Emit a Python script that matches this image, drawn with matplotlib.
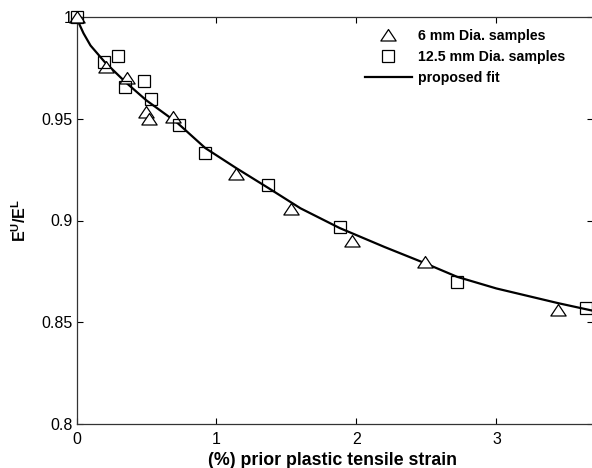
import matplotlib
matplotlib.use("Agg")
import matplotlib.pyplot as plt
from matplotlib.path import Path

plt.rcParams['font.family'] = ['Liberation Sans', 'DejaVu Sans']
plt.rcParams['mathtext.fontset'] = 'custom'
plt.rcParams['mathtext.rm'] = 'Liberation Sans:bold'
plt.rcParams['mathtext.bf'] = 'Liberation Sans:bold'

# 6 mm samples (triangles)
tri_x = [0.0, 0.21, 0.36, 0.50, 0.52, 0.69, 1.14, 1.53, 1.97, 2.49, 3.44]
tri_y = [1.0, 0.9755, 0.970, 0.9535, 0.950, 0.951, 0.9228, 0.9055, 0.890, 0.8797, 0.856]

# 12.5 mm samples (squares)
sq_x = [0.0, 0.195, 0.30, 0.35, 0.48, 0.53, 0.73, 0.92, 1.37, 1.88, 2.72, 3.64, 3.73]
sq_y = [1.0, 0.978, 0.981, 0.9654, 0.9687, 0.9597, 0.947, 0.933, 0.9174, 0.8969, 0.870, 0.8568, 0.8525]

# proposed fit
fit_x = [0.0, 0.02, 0.05, 0.1, 0.2, 0.35, 0.5, 0.72, 0.92, 1.14, 1.37, 1.6, 1.88, 2.2, 2.49, 2.72, 3.0, 3.44, 3.8]
fit_y = [1.0, 0.9965, 0.992, 0.986, 0.978, 0.968, 0.959, 0.948, 0.9356, 0.9258, 0.916, 0.906, 0.8963, 0.887, 0.879, 0.8723, 0.8666, 0.8594, 0.854]

xticks = [0, 1, 2, 3]
yticks = [0.8, 0.85, 0.9, 0.95, 1.0]
yticklabels = ['0.8', '0.85', '0.9', '0.95', '1']

tri_marker = Path([(-1, -0.72), (1, -0.72), (0, 0.78), (-1, -0.72)],
                  [Path.MOVETO, Path.LINETO, Path.LINETO, Path.CLOSEPOLY])

fig = plt.figure(figsize=(5.92, 4.68), dpi=100)
ax = fig.add_axes([76.5/592, 44/468, 516.5/592, 407/468])

ax.plot(fit_x, fit_y, color='black', lw=1.6, label='proposed fit', zorder=2)
ax.plot(tri_x, tri_y, linestyle='none', marker=tri_marker, ms=11, mfc='white',
        mec='black', mew=0.9, label='6 mm Dia. samples', zorder=3, clip_on=False)
ax.plot(sq_x, sq_y, linestyle='none', marker='s', ms=8, mfc='none',
        mec='black', mew=0.9, label='12.5 mm Dia. samples', zorder=3, clip_on=False)

ax.set_xlim(0, 3.69)
ax.set_ylim(0.8, 1.0)
ax.set_xticks(xticks)
ax.set_xticklabels([str(t) for t in xticks])
ax.set_yticks(yticks)
ax.set_yticklabels(yticklabels)
ax.tick_params(direction='in', length=4, width=0.8, top=True, right=True,
               labelsize=11.5)
ax.tick_params(axis='x', pad=6)
ax.tick_params(axis='y', pad=3)
for s in ax.spines.values():
    s.set_linewidth(0.9)
    s.set_color('#333333')

ax.set_xlabel('(%) prior plastic tensile strain', fontsize=12.8, fontweight='bold')
ax.xaxis.set_label_coords((332 - 76.5) / 516.5, -28/407)
ax.set_ylabel(r'E$^{\mathrm{U}}$/E$^{\mathrm{L}}$', fontsize=11.5, fontweight='bold')
ax.yaxis.set_label_coords(-(76.5 - 29) / 516.5, 0.5)

h, l = ax.get_legend_handles_labels()
order = [1, 2, 0]
leg = ax.legend([h[i] for i in order], [l[i] for i in order], loc='upper left',
                bbox_to_anchor=(358/592, 1 - 22/468), bbox_transform=fig.transFigure,
                frameon=False, prop={'weight': 'bold', 'size': 10.2},
                handlelength=3.3, handletextpad=0.45, labelspacing=0.5, borderpad=0)

fig.savefig('out.png', dpi=100)
